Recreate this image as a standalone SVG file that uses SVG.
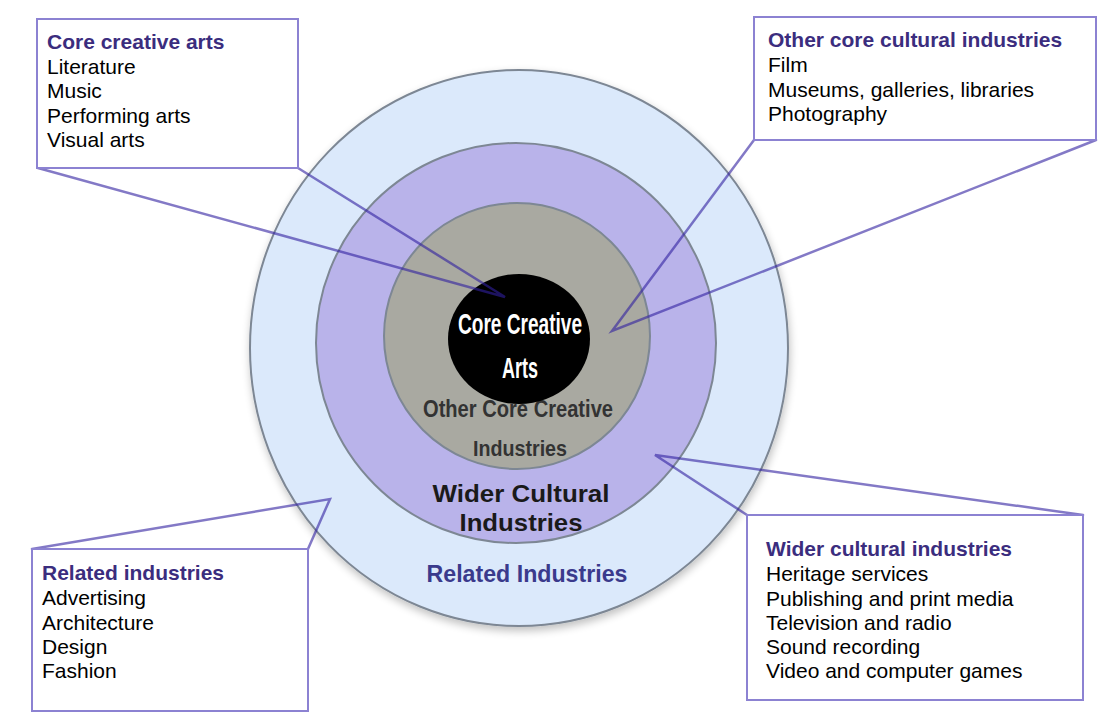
<svg xmlns="http://www.w3.org/2000/svg" width="1107" height="726" viewBox="0 0 1107 726">
  <defs>
    <filter id="soft-shadow" x="-10%" y="-10%" width="120%" height="125%">
      <feGaussianBlur in="SourceAlpha" stdDeviation="4"/>
      <feOffset dx="1" dy="4" result="b"/>
      <feComponentTransfer><feFuncA type="linear" slope="0.25"/></feComponentTransfer>
      <feMerge><feMergeNode/><feMergeNode in="SourceGraphic"/></feMerge>
    </filter>
  </defs>
  <style>
    .ring { stroke: #7d8794; stroke-width: 2; }
    .lbl { font-family: "Liberation Sans", Arial, sans-serif; font-weight: bold; text-anchor: middle; }
    .box { fill: #ffffff; stroke: #8c82d2; stroke-width: 2; }
    .hd { font-family: "Liberation Sans", Arial, sans-serif; font-size: 21px; font-weight: bold; fill: #3b2d7e; }
    .it { font-family: "Liberation Sans", Arial, sans-serif; font-size: 21px; fill: #000000; }
    .lead { fill: none; stroke: #3020a0; stroke-opacity: 0.6; stroke-width: 2.5; stroke-linecap: round; }
  </style>

  <rect width="1107" height="726" fill="#ffffff"/>

  <!-- concentric rings, outermost first -->
  <g id="ring-related">
    <ellipse cx="519" cy="348" rx="269" ry="278" fill="#dbe9fb" class="ring" filter="url(#soft-shadow)"/>
    <text class="lbl" x="527" y="582" font-size="24" fill="#3a3a8c" textLength="201" lengthAdjust="spacingAndGlyphs">Related Industries</text>
  </g>
  <g id="ring-wider">
    <circle cx="516" cy="343" r="200" fill="#b9b3ea" class="ring"/>
    <text class="lbl" x="521" y="502" font-size="24" fill="#1a1a1a" textLength="177" lengthAdjust="spacingAndGlyphs">Wider Cultural</text>
    <text class="lbl" x="521" y="531" font-size="24" fill="#1a1a1a" textLength="123" lengthAdjust="spacingAndGlyphs">Industries</text>
  </g>
  <g id="ring-other-core">
    <circle cx="517" cy="336" r="133" fill="#a9a9a1" class="ring"/>
    <text class="lbl" x="518" y="417" font-size="24" fill="#333333" textLength="190" lengthAdjust="spacingAndGlyphs">Other Core Creative</text>
    <text class="lbl" x="520" y="456" font-size="22" fill="#333333" textLength="94" lengthAdjust="spacingAndGlyphs">Industries</text>
  </g>
  <g id="ring-core">
    <ellipse cx="519" cy="339" rx="71" ry="65" fill="#000000"/>
    <text class="lbl" x="520" y="334" font-size="30" fill="#ffffff" textLength="124" lengthAdjust="spacingAndGlyphs">Core Creative</text>
    <text class="lbl" x="520" y="378" font-size="30" fill="#ffffff" textLength="36" lengthAdjust="spacingAndGlyphs">Arts</text>
  </g>

  <!-- callout pointers: two lines from each box's corners to a point in its ring -->
  <g id="connectors">
    <polyline class="lead" points="38,168 505,297 298,168"/>
    <polyline class="lead" points="754,140 612,331 1096,140"/>
    <polyline class="lead" points="32,549 330,499 308,549"/>
    <polyline class="lead" points="747,515 655,455 1083,515"/>
  </g>

  <g id="box-core-creative-arts">
    <rect class="box" x="37" y="19" width="261" height="149"/>
    <text class="hd" x="47" y="49">Core creative arts</text>
    <text class="it" x="47" y="74">Literature</text>
    <text class="it" x="47" y="98">Music</text>
    <text class="it" x="47" y="123">Performing arts</text>
    <text class="it" x="47" y="147">Visual arts</text>
  </g>

  <g id="box-other-core-cultural">
    <rect class="box" x="754" y="17" width="342" height="123"/>
    <text class="hd" x="768" y="47">Other core cultural industries</text>
    <text class="it" x="768" y="72">Film</text>
    <text class="it" x="768" y="97">Museums, galleries, libraries</text>
    <text class="it" x="768" y="121">Photography</text>
  </g>

  <g id="box-related-industries">
    <rect class="box" x="32" y="549" width="276" height="162"/>
    <text class="hd" x="42" y="580">Related industries</text>
    <text class="it" x="42" y="605">Advertising</text>
    <text class="it" x="42" y="630">Architecture</text>
    <text class="it" x="42" y="654">Design</text>
    <text class="it" x="42" y="678">Fashion</text>
  </g>

  <g id="box-wider-cultural">
    <rect class="box" x="747" y="515" width="336" height="185"/>
    <text class="hd" x="766" y="556">Wider cultural industries</text>
    <text class="it" x="766" y="581">Heritage services</text>
    <text class="it" x="766" y="606">Publishing and print media</text>
    <text class="it" x="766" y="630">Television and radio</text>
    <text class="it" x="766" y="654">Sound recording</text>
    <text class="it" x="766" y="678">Video and computer games</text>
  </g>
</svg>
